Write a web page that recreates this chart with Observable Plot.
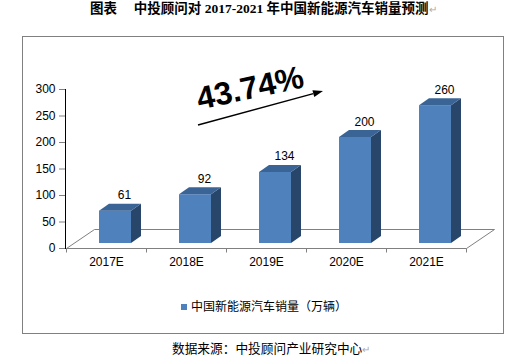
<!DOCTYPE html>
<html><head><meta charset="utf-8">
<script src="https://cdn.jsdelivr.net/npm/d3@7"></script>
<script src="https://cdn.jsdelivr.net/npm/@observablehq/plot@0.6"></script>
<style>
body{margin:0;background:#fff;width:509px;height:364px;position:relative;overflow:hidden;font-family:"Liberation Sans",Arial,sans-serif;}
#title{position:absolute;left:90px;top:1px;font-weight:bold;font-size:13.5px;font-family:"Liberation Serif","Noto Sans CJK SC",serif;white-space:pre;color:#000;line-height:16px;}
#frame{position:absolute;left:22px;top:36px;width:482px;height:298px;box-sizing:border-box;border:1px solid #808080;}
#chart{position:absolute;left:0;top:36px;}
#legend{position:absolute;left:181px;top:298px;height:16px;font-size:12px;font-family:"Noto Sans CJK SC",sans-serif;line-height:16px;white-space:nowrap;color:#000;}
#legend .sw{display:inline-block;width:6px;height:6px;background:#4F81BD;margin-right:4px;vertical-align:1px;}
#caption{position:absolute;left:172px;top:340px;font-size:12.7px;font-family:"Noto Sans CJK SC",sans-serif;line-height:16px;white-space:nowrap;color:#000;}
.pm{color:#aaa;font-weight:normal;font-size:10px;}
#chart svg g[aria-label^="y-axis"]{color:#808080;}
#chart svg g[aria-label^="y-axis"] text{fill:#000;}
</style></head>
<body>
<div id="title"></div>
<div id="frame"></div>
<div id="chart"></div>
<div id="legend"></div>
<div id="caption"></div>
<script>
const categories = ["2017E","2018E","2019E","2020E","2021E"];
const sales = [61,92,134,200,260];
const yTicks = [0,50,100,150,200,250,300];
const seriesName = "中国新能源汽车销量（万辆）";
const growthLabel = "43.74%";
const titleText = "图表　 中投顾问对 2017-2021 年中国新能源汽车销量预测";
const sourceText = "数据来源：中投顾问产业研究中心";

const FRONT = "#4F81BD", TOP = "#3b6496", SIDE = "#28456a", GRID = "#808080";
const DX = 9, DY = -5, DEPTH_X = 10, DEPTH_Y = -7, FLOOR_X = 28, FLOOR_Y = -19, INSET = 24;

const data = categories.map((c, i) => ({cat: c, v: sales[i]}));

function bw(x) { return typeof x.bandwidth === "function" ? x.bandwidth() : x.bandwidth; }

const floorMark = (index, scales) => {
  const x = scales.x, y = scales.y, w = bw(x);
  const g = d3.create("svg:g");
  const y0 = Math.round(y(0)) + 0.5;
  const xl = Math.round(x(categories[0])) + 0.5;
  const xr = Math.round(x(categories[categories.length - 1]) + w) + 0.5;
  g.append("path")
    .attr("d", `M${xl},${y0}L${xl + FLOOR_X},${y0 + FLOOR_Y}L${xr + FLOOR_X},${y0 + FLOOR_Y}L${xr},${y0}Z`)
    .attr("fill", "#fff").attr("stroke", GRID).attr("stroke-width", 1);
  const edges = categories.map(c => x(c)).concat([x(categories[categories.length - 1]) + w]);
  for (const e of edges) {
    const ex = Math.round(e) + 0.5;
    g.append("line").attr("x1", ex).attr("x2", ex).attr("y1", y0).attr("y2", y0 + 4)
      .attr("stroke", GRID);
  }
  return g.node();
};

const depthMark = (index, scales) => {
  const x = scales.x, y = scales.y, w = bw(x);
  const g = d3.create("svg:g");
  for (const d of data) {
    const xL = x(d.cat) + INSET + DX;
    const xR = x(d.cat) + w - INSET + DX;
    const yT = y(d.v) + DY;
    const yB = y(0) + DY;
    g.append("path")
      .attr("d", `M${xR},${yT}L${xR + DEPTH_X},${yT + DEPTH_Y}L${xR + DEPTH_X},${yB + DEPTH_Y}L${xR},${yB}Z`)
      .attr("fill", SIDE);
    g.append("path")
      .attr("d", `M${xL},${yT}L${xL + DEPTH_X},${yT + DEPTH_Y}L${xR + DEPTH_X},${yT + DEPTH_Y}L${xR},${yT}Z`)
      .attr("fill", TOP);
  }
  return g.node();
};

const arrowMark = (index, scales, values, dims) => {
  const ml = dims.marginLeft, mt = dims.marginTop;
  const x1 = ml + 133, y1 = mt + 36, x2 = ml + 258, y2 = mt + 2;
  const g = d3.create("svg:g");
  const ang = Math.atan2(y2 - y1, x2 - x1);
  const L = 10, H = 3.5;
  const bx = x2 - L * Math.cos(ang), by = y2 - L * Math.sin(ang);
  g.append("line").attr("x1", x1).attr("y1", y1).attr("x2", bx).attr("y2", by)
    .attr("stroke", "#000").attr("stroke-width", 1.5);
  g.append("path")
    .attr("d", `M${x2},${y2}L${bx - H * Math.sin(ang)},${by + H * Math.cos(ang)}L${bx + H * Math.sin(ang)},${by - H * Math.cos(ang)}Z`)
    .attr("fill", "#000");
  return g.node();
};

const chart = Plot.plot({
  width: 509,
  height: 264,
  marginLeft: 65,
  marginRight: 43,
  marginTop: 53,
  marginBottom: 52,
  style: {fontSize: "12px", fontFamily: "Liberation Sans, Arial, sans-serif", color: "#000", background: "transparent"},
  x: {domain: categories, padding: 0, tickSize: 0, tickPadding: 9, label: null},
  y: {domain: [0, 300], ticks: yTicks, tickSize: 6, tickPadding: 4, line: true, label: null},
  marks: [
    floorMark,
    Plot.barY(data, {x: "cat", y: "v", fill: FRONT, insetLeft: INSET, insetRight: INSET, dx: DX, dy: DY}),
    depthMark,
    Plot.text(data, {x: "cat", y: "v", text: d => String(d.v), dx: 18, dy: -17, lineAnchor: "bottom", fontSize: 12}),
    arrowMark,
    Plot.text([growthLabel], {frameAnchor: "top-left", text: d => d, dx: 129, dy: -2, rotate: -12, fontSize: 32, fontWeight: "bold", fontFamily: "Liberation Sans, Arial, sans-serif"})
  ]
});
document.getElementById("chart").appendChild(chart);

document.getElementById("title").innerHTML = titleText + '<span class="pm">↵</span>';
document.getElementById("legend").innerHTML = '<span class="sw"></span>' + seriesName;
document.getElementById("caption").innerHTML = sourceText + '<span class="pm">↵</span>';
</script>
</body></html>
